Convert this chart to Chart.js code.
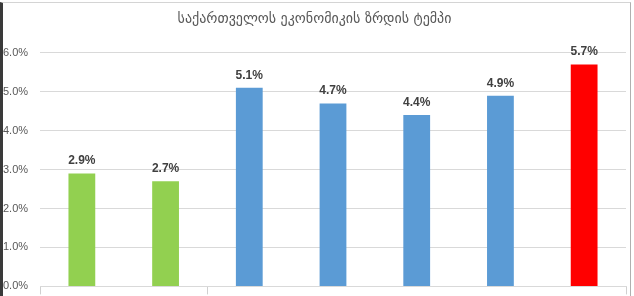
<!DOCTYPE html>
<html>
<head>
<meta charset="utf-8">
<script src="https://cdn.jsdelivr.net/npm/chart.js@4.4.1/dist/chart.umd.min.js"></script>
<style>
  body { margin: 0; background: #fff; overflow: hidden; }
  #wrap { position: relative; width: 634px; height: 296px; }
  #growthChart { position: absolute; left: 0; top: 0; }
  #frame {
    position: absolute; left: 0; top: 2px; width: 627px; height: 300px;
    border-left: 3px solid #3a3a3a; border-top: 1px solid #d4d4d4; border-right: 1px solid #b0b0b0;
    pointer-events: none;
  }
</style>
</head>
<body>
<div id="wrap">
  <canvas id="growthChart" width="634" height="296"></canvas>
  <div id="frame"></div>
</div>
<script>
const years = ['2015', '2016', '2017', '2018', '2019', '2020', '2021'];
const growth = [2.9, 2.7, 5.1, 4.7, 4.4, 4.9, 5.7];
const barColors = ['#92d050', '#92d050', '#5b9bd5', '#5b9bd5', '#5b9bd5', '#5b9bd5', '#ff0000'];
const titleText = 'საქართველოს ეკონომიკის ზრდის ტემპი';

// values above the bars
const valueLabels = {
  id: 'valueLabels',
  afterDatasetsDraw(chart) {
    const ctx = chart.ctx;
    const meta = chart.getDatasetMeta(0);
    ctx.save();
    ctx.font = 'bold 12px "Liberation Sans", Arial, sans-serif';
    ctx.fillStyle = '#404040';
    ctx.textAlign = 'center';
    ctx.textBaseline = 'alphabetic';
    meta.data.forEach((bar, i) => {
      ctx.fillText(growth[i].toFixed(1) + '%', bar.x, bar.y - 9);
    });
    ctx.restore();
  },
};

const growthConfig = {
  type: 'bar',
  data: {
    labels: years,
    datasets: [
      {
        label: 'growth',
        data: growth,
        backgroundColor: barColors,
        borderWidth: 0,
        barPercentage: 0.32,
        categoryPercentage: 1,
      },
    ],
  },
  options: {
    responsive: false,
    animation: false,
    layout: { padding: { left: 3, right: 8, top: 0, bottom: 0 } },
    plugins: {
      legend: { display: false },
      tooltip: { enabled: false },
      title: {
        display: true,
        text: titleText,
        color: '#595959',
        font: { family: '"DejaVu Sans", sans-serif', size: 14, weight: 'normal' },
        padding: { top: 11, bottom: 25 },
      },
    },
    scales: {
      x: {
        offset: true,
        ticks: { display: false },
        grid: {
          offset: true,
          drawOnChartArea: false,
          drawTicks: true,
          tickLength: 8,
          color: (c) => (c.type !== 'tick' || c.index === 0 || c.index === 2 ? '#d0d0d0' : 'rgba(0,0,0,0)'),
        },
        border: { display: true, color: '#d9d9d9' },
      },
      y: {
        min: 0,
        max: 6,
        ticks: {
          stepSize: 1,
          crossAlign: 'far',
          color: '#595959',
          font: { family: '"Liberation Sans", Arial, sans-serif', size: 11 },
          callback: (v) => v.toFixed(1) + '%',
        },
        grid: { color: '#d9d9d9', drawTicks: false },
        border: { display: false },
        afterFit(scale) {
          scale.width = 37;
        },
      },
    },
  },
  plugins: [valueLabels],
};

let growthChart = new Chart(document.getElementById('growthChart'), growthConfig);
</script>
</body>
</html>
